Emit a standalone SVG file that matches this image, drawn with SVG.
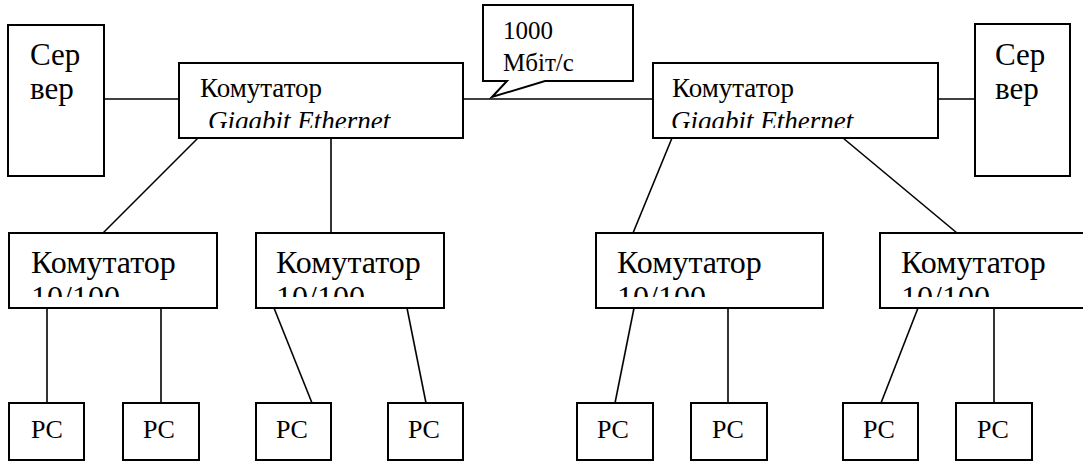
<svg xmlns="http://www.w3.org/2000/svg" width="1083" height="462" viewBox="0 0 1083 462" font-family="Liberation Serif">
<style>
text{font-family:"Liberation Serif","Times New Roman",serif !important}
</style>
<rect width="1083" height="462" fill="#fff"/>
<g id="connectors" stroke="#000" stroke-width="1.6" fill="none">
<line x1="104" y1="99" x2="179" y2="99"/>
<line x1="463" y1="99" x2="653" y2="99"/>
<line x1="938" y1="99" x2="975" y2="99"/>
<line x1="198" y1="138" x2="103" y2="233"/>
<line x1="331" y1="138" x2="331" y2="233"/>
<line x1="672" y1="138" x2="633" y2="233"/>
<line x1="843" y1="138" x2="957" y2="233"/>
<line x1="47" y1="308" x2="47" y2="403"/>
<line x1="161" y1="308" x2="161" y2="403"/>
<line x1="274" y1="308" x2="312" y2="403"/>
<line x1="407" y1="308" x2="426" y2="403"/>
<line x1="634" y1="308" x2="615" y2="403"/>
<line x1="728" y1="308" x2="728" y2="403"/>
<line x1="918" y1="308" x2="881" y2="403"/>
<line x1="994" y1="308" x2="994" y2="403"/>
</g>
<g id="server-left">
<rect x="8" y="25" width="96" height="151" fill="#fff" stroke="#000" stroke-width="2"/>
<text x="30" y="65" font-family="Times New Roman" font-size="31">Сер</text>
<text x="30" y="99" font-family="Times New Roman" font-size="31">вер</text>
</g>
<g id="server-right">
<rect x="975" y="24" width="95" height="152" fill="#fff" stroke="#000" stroke-width="2"/>
<text x="995" y="65" font-family="Times New Roman" font-size="31">Сер</text>
<text x="995" y="99" font-family="Times New Roman" font-size="31">вер</text>
</g>
<g id="callout">
<path d="M483,5 H633 V81 H545 L492,97 L507,81 H483 Z" fill="#fff" stroke="#000" stroke-width="2"/>
<text x="503" y="39" font-family="Times New Roman" font-size="25">1000</text>
<text x="503" y="71" font-family="Times New Roman" font-size="25">Мбіт/с</text>
</g>
<g id="ge-left">
<rect x="179" y="63" width="284" height="75" fill="#fff" stroke="#000" stroke-width="2"/>
<text x="200" y="97" font-family="Times New Roman" font-size="27">Комутатор</text>
<text x="208" y="130" font-family="Times New Roman" font-size="27" font-style="italic">Gigabit Ethernet</text>
<rect x="180" y="128" width="282" height="9" fill="#fff"/>
</g>
<g id="ge-right">
<rect x="653" y="63" width="285" height="75" fill="#fff" stroke="#000" stroke-width="2"/>
<text x="672" y="97" font-family="Times New Roman" font-size="27">Комутатор</text>
<text x="671" y="130" font-family="Times New Roman" font-size="27" font-style="italic">Gigabit Ethernet</text>
<rect x="654" y="128" width="283" height="9" fill="#fff"/>
</g>
<g id="sw1">
<rect x="9" y="233" width="208" height="75" fill="#fff" stroke="#000" stroke-width="2"/>
<text x="31" y="273" font-family="Times New Roman" font-size="32">Комутатор</text>
<text x="31" y="308" font-family="Times New Roman" font-size="32">10/100</text>
<rect x="10" y="297" width="206" height="10" fill="#fff"/>
</g>
<g id="sw2">
<rect x="256" y="233" width="188" height="75" fill="#fff" stroke="#000" stroke-width="2"/>
<text x="276" y="273" font-family="Times New Roman" font-size="32">Комутатор</text>
<text x="276" y="308" font-family="Times New Roman" font-size="32">10/100</text>
<rect x="257" y="297" width="186" height="10" fill="#fff"/>
</g>
<g id="sw3">
<rect x="596" y="233" width="227" height="75" fill="#fff" stroke="#000" stroke-width="2"/>
<text x="617" y="273" font-family="Times New Roman" font-size="32">Комутатор</text>
<text x="617" y="308" font-family="Times New Roman" font-size="32">10/100</text>
<rect x="597" y="297" width="225" height="10" fill="#fff"/>
</g>
<g id="sw4">
<rect x="880" y="233" width="210" height="75" fill="#fff" stroke="#000" stroke-width="2"/>
<text x="901" y="273" font-family="Times New Roman" font-size="32">Комутатор</text>
<text x="901" y="308" font-family="Times New Roman" font-size="32">10/100</text>
<rect x="881" y="297" width="208" height="10" fill="#fff"/>
</g>
<g id="pc1"><rect x="9" y="403" width="75" height="57" fill="#fff" stroke="#000" stroke-width="2"/><text x="31" y="438" font-family="Times New Roman" font-size="26">PC</text></g>
<g id="pc2"><rect x="123" y="403" width="76" height="57" fill="#fff" stroke="#000" stroke-width="2"/><text x="143" y="438" font-family="Times New Roman" font-size="26">PC</text></g>
<g id="pc3"><rect x="256" y="403" width="75" height="57" fill="#fff" stroke="#000" stroke-width="2"/><text x="276" y="438" font-family="Times New Roman" font-size="26">PC</text></g>
<g id="pc4"><rect x="388" y="403" width="75" height="57" fill="#fff" stroke="#000" stroke-width="2"/><text x="408" y="438" font-family="Times New Roman" font-size="26">PC</text></g>
<g id="pc5"><rect x="577" y="403" width="76" height="57" fill="#fff" stroke="#000" stroke-width="2"/><text x="597" y="438" font-family="Times New Roman" font-size="26">PC</text></g>
<g id="pc6"><rect x="691" y="403" width="76" height="57" fill="#fff" stroke="#000" stroke-width="2"/><text x="712" y="438" font-family="Times New Roman" font-size="26">PC</text></g>
<g id="pc7"><rect x="843" y="403" width="75" height="57" fill="#fff" stroke="#000" stroke-width="2"/><text x="863" y="438" font-family="Times New Roman" font-size="26">PC</text></g>
<g id="pc8"><rect x="956" y="403" width="76" height="57" fill="#fff" stroke="#000" stroke-width="2"/><text x="977" y="438" font-family="Times New Roman" font-size="26">PC</text></g>
</svg>
